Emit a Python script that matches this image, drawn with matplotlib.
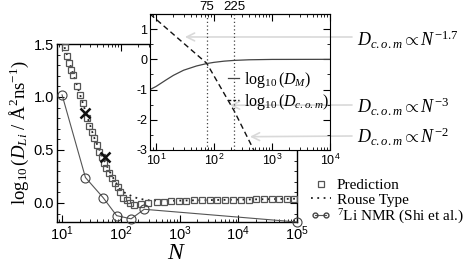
import numpy as np
import matplotlib
matplotlib.use("Agg")
import matplotlib.pyplot as plt
from matplotlib.ticker import LogLocator, NullFormatter, FixedLocator, FixedFormatter, MultipleLocator
from matplotlib.lines import Line2D
from matplotlib.legend_handler import HandlerLine2D

plt.rcParams['mathtext.fontset'] = 'custom'
plt.rcParams['mathtext.rm'] = 'Liberation Serif'
plt.rcParams['mathtext.it'] = 'Liberation Serif:italic'
plt.rcParams['mathtext.sf'] = 'Liberation Sans'
plt.rcParams['mathtext.bf'] = 'Liberation Serif:bold'
plt.rcParams['font.family'] = ['Liberation Sans', 'DejaVu Sans']

# ---------------- data ----------------
pred_N = [11.2, 12.2, 13.3, 14.2, 15.6, 17.8, 20, 22.5, 27, 29, 32, 35, 39, 43, 47, 52, 57, 63.6,
          72, 80, 89, 97, 110, 126, 145, 167, 220, 295, 410, 550, 720, 970, 1300, 1750, 2400, 3250,
          4400, 6000, 8100, 11000, 15000, 20000, 27000, 37000, 50000, 67000, 90000]
pred_val = [1.47, 1.39, 1.32, 1.25, 1.21, 1.10, 1.02, 0.94, 0.80, 0.73, 0.67, 0.61, 0.55, 0.48, 0.43,
            0.38, 0.33, 0.28, 0.24, 0.19, 0.15, 0.10, 0.05, 0.025, 0.0, -0.02, -0.01, 0.0, 0.01, 0.01,
            0.02, 0.02, 0.02, 0.025, 0.025, 0.025, 0.03, 0.03, 0.03, 0.03, 0.03, 0.035, 0.035, 0.035,
            0.035, 0.04, 0.04]

rouse_N = [11, 20, 35, 52, 70, 85, 97, 118, 143, 174, 212, 300, 600, 2000, 100000]
rouse_val = [1.47, 1.03, 0.62, 0.40, 0.26, 0.18, 0.13, 0.095, 0.072, 0.052, 0.038, 0.025, 0.02, 0.025, 0.04]

nmr_N = [10, 25, 50, 85, 150, 250, 100000]
nmr_val = [1.02, 0.24, 0.05, -0.12, -0.15, -0.06, -0.18]

cross_N = [25, 53]
cross_val = [0.85, 0.43]

dm_N = [7.9, 10, 15, 20, 30, 50, 75, 100, 150, 225, 400, 1000, 10000]
dm_val = [-1.0, -0.9, -0.68, -0.53, -0.36, -0.22, -0.14, -0.1, -0.06, -0.035, -0.015, -0.003, 0.0]

dcom_N = [7.9, 75, 225, 500]
dcom_val = [1.5, -0.13, -1.72, -3.05]

marks_N = [75, 225]
marks_lbl = ['75', '225']

arrow_targets_N = [31.6, 189, 417]
arrow_targets_val = [0.74, -1.52, -2.56]
arrow_texts = [r'$D_{c.o.m}\propto N^{\mathit{-1.7}}$', r'$D_{c.o.m}\propto N^{-3}$',
               r'$D_{c.o.m}\propto N^{-2}$']

main_ticks = [10, 100, 1000, 10000, 100000]
main_ticklbl = [r'$\mathsf{10^{1}}$', r'$\mathsf{10^{2}}$', r'$\mathsf{10^{3}}$',
                r'$\mathsf{10^{4}}$', r'$\mathsf{10^{5}}$']
inset_ticks = [10, 100, 1000, 10000]
inset_ticklbl = main_ticklbl[:4]

# ---------------- figure ----------------
W, H = 469, 263
fig = plt.figure(figsize=(W / 100, H / 100), dpi=100)

ax = fig.add_axes([57 / W, 1 - 222 / H, 240 / W, 178 / H])
ax.plot(rouse_N, rouse_val, ls=(0, (1, 2.5)), color='#222222', lw=1.3, zorder=2)
ax.plot(pred_N, pred_val, ls='none', marker='s', ms=4.2, mfc='none', mec='#555555', mew=0.9, zorder=3)
ax.plot(nmr_N, nmr_val, '-', color='#555555', lw=0.8, marker='o', ms=6.5, mfc='none', mec='#444444',
        mew=0.8, zorder=3, clip_on=False)
ax.plot(cross_N, cross_val, ls='none', marker='x', ms=7, mew=1.8, color='#111111', zorder=4)

ax.set_xscale('log')
ax.set_xlim(8.2, 1e5)
ax.set_ylim(-0.18, 1.5)
ax.xaxis.set_major_locator(FixedLocator(main_ticks))
ax.xaxis.set_major_formatter(FixedFormatter(main_ticklbl))
ax.xaxis.set_minor_locator(LogLocator(base=10, subs=np.arange(2, 10), numticks=20))
ax.xaxis.set_minor_formatter(NullFormatter())
ax.set_yticks([0.0, 0.5, 1.0, 1.5])
ax.set_yticklabels(['0.0', '0.5', '1.0', '1.5'])
ax.yaxis.set_minor_locator(MultipleLocator(0.1))
ax.tick_params(which='both', direction='in', top=True, right=True, labelsize=10.5)
ax.tick_params(axis='x', pad=2)
ax.tick_params(axis='y', pad=2)
ax.tick_params(which='major', length=5, width=0.8)
ax.tick_params(which='minor', length=2.5, width=0.6)
for s in ax.spines.values():
    s.set_linewidth(1.0)
ax.set_xlabel(r'$N$', fontsize=17, labelpad=-1)
ax.set_ylabel(r'$\log_{10}(D_{Li}\ /\ \mathrm{\AA}^{2}\mathrm{ns}^{-1})$', fontsize=13.5, labelpad=2)

h_pred = Line2D([], [], ls='none', marker='s', ms=4, mfc='none', mec='#555555', mew=0.9)
h_rouse = Line2D([], [], ls=(0, (1, 2.5)), color='#222222', lw=1.3)
h_nmr = Line2D([], [], ls='-', color='#555555', lw=0.8, marker='o', ms=3.5, mfc='none', mec='#444444')
fig.legend([h_pred, h_rouse, h_nmr], ['Prediction', 'Rouse Type', r'$^{7}$Li NMR (Shi et al.)'],
           loc='upper left', bbox_to_anchor=(303 / W, 1 - 171 / H), frameon=False,
           prop={'family': 'Liberation Serif', 'size': 11}, handlelength=1.3, handletextpad=0.4,
           labelspacing=0.05, borderpad=0.0,
           handler_map={h_pred: HandlerLine2D(numpoints=1), h_nmr: HandlerLine2D(numpoints=2)})

# ---------------- inset ----------------
ai = fig.add_axes([150 / W, 1 - 150 / H, 180 / W, 136 / H])
ai.set_facecolor('white')
ai.plot(dm_N, dm_val, '-', color='#444444', lw=0.9)
ai.plot(dcom_N, dcom_val, '--', color='#111111', lw=1.0, dashes=(4, 2.5))
for n in marks_N:
    ai.axvline(n, ls=(0, (1, 2)), color='#444444', lw=0.9)
ai.set_xscale('log')
ai.set_xlim(7.9, 1e4)
ai.set_ylim(-3, 1.5)
ai.xaxis.set_major_locator(FixedLocator(inset_ticks))
ai.xaxis.set_major_formatter(FixedFormatter(inset_ticklbl))
ai.xaxis.set_minor_locator(LogLocator(base=10, subs=np.arange(2, 10), numticks=20))
ai.xaxis.set_minor_formatter(NullFormatter())
ai.set_yticks([-3, -2, -1, 0, 1])
ai.set_yticklabels(['-3', '-2', '-1', '0', '1'])
ai.yaxis.set_minor_locator(MultipleLocator(0.5))
ai.tick_params(which='both', direction='in', top=True, right=True, labelsize=9, pad=2)
ai.tick_params(which='major', length=5, width=0.8)
ai.tick_params(which='minor', length=2.5, width=0.6)
sec = ai.secondary_xaxis('top')
sec.set_xticks(marks_N)
sec.set_xticklabels(marks_lbl)
sec.xaxis.set_minor_locator(FixedLocator([]))
sec.tick_params(direction='in', length=0, labelsize=9.5, pad=1)

lh = [Line2D([], [], ls='-', color='#444444', lw=0.9),
      Line2D([], [], ls='--', color='#111111', lw=1.0, dashes=(2, 1.5))]
ai.legend(lh, [r'$\log_{10}(D_M)$', r'$\log_{10}(D_{c.o.m})$'], loc='upper left',
          bbox_to_anchor=(220 / W, 1 - 62 / H), bbox_transform=fig.transFigure, frameon=False,
          prop={'family': 'Liberation Serif', 'size': 11.5}, handlelength=0.7, handletextpad=0.3,
          labelspacing=0.1, borderpad=0.0)

# arrows and annotations
text_y = [40, 107, 137]
arrow_y = [37, 105, 136]
for n, v, ty, ay, t in zip(arrow_targets_N, arrow_targets_val, text_y, arrow_y, arrow_texts):
    ai.annotate('', xy=(n, v), xycoords='data', xytext=(352, H - ay), textcoords='figure pixels',
                arrowprops=dict(arrowstyle='->', color='#d9d9d9', lw=1.2, shrinkA=0, shrinkB=0,
                                mutation_scale=14),
                annotation_clip=False, zorder=1)
    fig.text(357 / W, 1 - ty / H, t, fontsize=13, va='center', ha='left')

fig.savefig('out.png', dpi=100)
